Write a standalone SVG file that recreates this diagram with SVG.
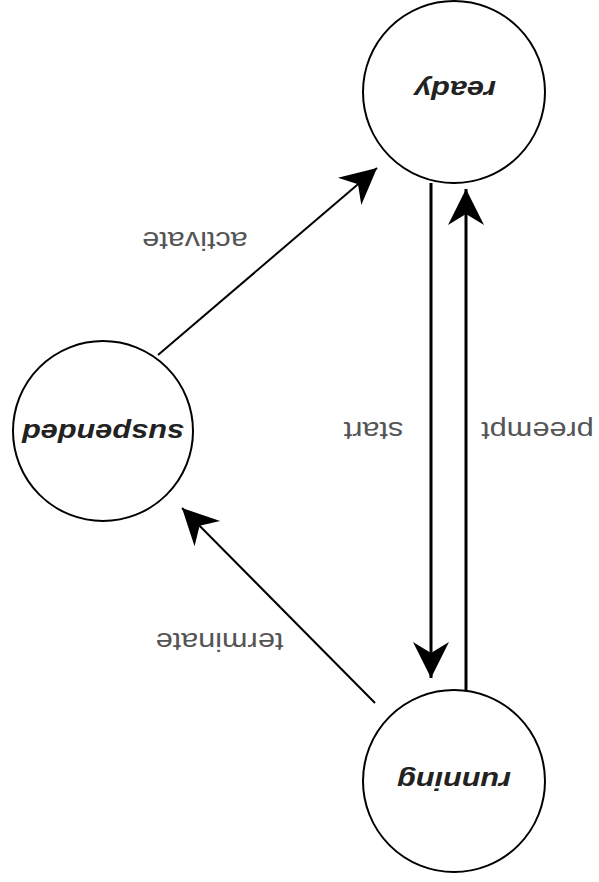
<svg xmlns="http://www.w3.org/2000/svg" width="599" height="882" viewBox="0 0 599 882">
<style>
.node circle{fill:#fff;stroke:#000;stroke-width:2}
.node text{font-family:"Liberation Sans",Arial,sans-serif;font-size:26px;font-weight:bold;font-style:italic;fill:#222;text-anchor:middle;dominant-baseline:central}
.edge line{stroke:#000;stroke-width:2;fill:none}
.edge line.v{stroke-width:3}
.lbl{font-family:"Liberation Sans",Arial,sans-serif;font-size:26px;fill:#555;text-anchor:middle;dominant-baseline:central}
</style>
<defs>
<marker id="ah" markerUnits="userSpaceOnUse" viewBox="-40 -20 42 40" refX="0" refY="0" markerWidth="42" markerHeight="40" orient="auto">
<path d="M0,0 L-36,-18 L-25,0 L-36,18 Z" fill="#000"/>
</marker>
</defs>
<rect width="599" height="882" fill="#fff"/>
<g id="connectors" class="edge">
<line x1="158" y1="355" x2="377" y2="168" marker-end="url(#ah)"/>
<line class="v" x1="431" y1="183" x2="431" y2="678" marker-end="url(#ah)"/>
<line class="v" x1="466" y1="690" x2="466" y2="189" marker-end="url(#ah)"/>
<line x1="375" y1="703" x2="182" y2="508" marker-end="url(#ah)"/>
<text class="lbl" transform="translate(195 241) rotate(180) scale(1.18 1)">activate</text>
<text class="lbl" transform="translate(373.5 431) rotate(180) scale(1.18 1)">start</text>
<text class="lbl" transform="translate(537.5 431) rotate(180) scale(1.18 1)">preempt</text>
<text class="lbl" transform="translate(219.5 642) rotate(180) scale(1.18 1)">terminate</text>
</g>
<g id="ready" class="node">
<circle cx="454" cy="92" r="91"/>
<text transform="translate(455 90) rotate(180) scale(1.18 1)">ready</text>
</g>
<g id="suspended" class="node">
<circle cx="103" cy="431" r="90"/>
<text transform="translate(103 433) rotate(180) scale(1.18 1)">suspended</text>
</g>
<g id="running" class="node">
<circle cx="454" cy="781" r="91"/>
<text transform="translate(454 781) rotate(180) scale(1.18 1)">running</text>
</g>
</svg>
